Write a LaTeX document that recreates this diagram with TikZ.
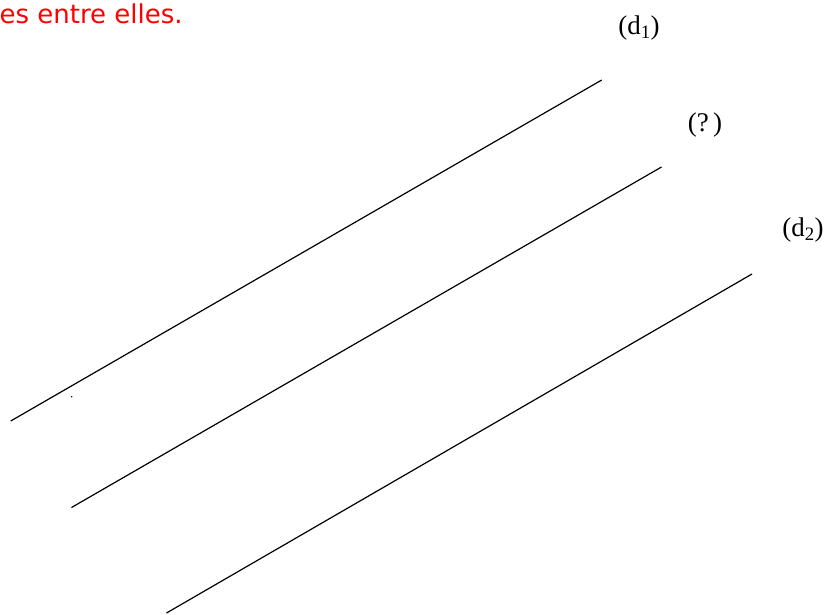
\documentclass[tikz,border=0pt]{standalone}
\usepackage{fontspec}
\setmainfont{Liberation Serif}
\newfontfamily\notefont{DejaVu Sans}

\begin{document}
\begin{tikzpicture}[x=1pt, y=-1pt, line width=1.2pt]
  \useasboundingbox (0,0) rectangle (826,614);
  \coordinate (A1) at ( 10.7,421);
  \coordinate (B1) at (601.7, 80);
  \coordinate (A2) at ( 71.5,507.5);
  \coordinate (B2) at (661.5,167);
  \coordinate (A3) at (166.5,613);
  \coordinate (B3) at (752,274);

  \draw (A1) -- (B1);
  \draw (A2) -- (B2);
  \draw (A3) -- (B3);
  % petit point
  \fill (71.7,396.7) circle (0.8);

  \node[anchor=base west, inner sep=0, red, font=\notefont\fontsize{26}{30}\selectfont] (note) at (-1,23) {es entre elles.};
  \node[font=\fontsize{27}{30}\selectfont] (d1) at (639,28) {(d\textsubscript{1})};
  \node[font=\fontsize{27}{30}\selectfont] (dq) at (705,125) {(?\,)};
  \node[font=\fontsize{27}{30}\selectfont] (d2) at (803,230) {(d\textsubscript{2})};
\end{tikzpicture}
\end{document}
